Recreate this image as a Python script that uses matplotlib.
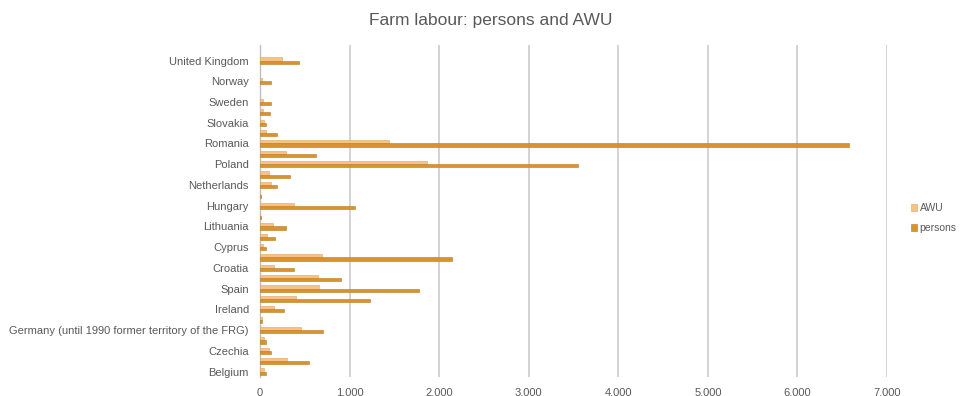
import numpy as np
import matplotlib
matplotlib.use("Agg")
import matplotlib.pyplot as plt
from matplotlib.ticker import FuncFormatter

plt.rcParams['font.family'] = ['Liberation Sans', 'DejaVu Sans']

# categories, bottom to top (only every other one gets a visible label)
countries = ["Belgium", "Bulgaria", "Czechia", "Denmark",
             "Germany (until 1990 former territory of the FRG)", "Estonia",
             "Ireland", "Greece", "Spain", "France", "Croatia", "Italy",
             "Cyprus", "Latvia", "Lithuania", "Luxembourg", "Hungary", "Malta",
             "Netherlands", "Austria", "Poland", "Portugal", "Romania",
             "Slovenia", "Slovakia", "Finland", "Sweden", "Iceland", "Norway",
             "Switzerland", "United Kingdom", "Montenegro"]

awu = [46, 298, 95, 45, 455, 18, 156, 404, 660, 644, 158, 688,
       28, 74, 140, 4, 385, 4, 121, 97, 1861, 292, 1444,
       68, 45, 37, 37, np.nan, 26, np.nan, 242, np.nan]

persons = [72, 545, 125, 72, 705, 27, 268, 1228, 1772, 907, 385, 2140,
           68, 164, 292, 7, 1061, 10, 186, 335, 3554, 624, 6580,
           186, 67, 112, 125, np.nan, 125, np.nan, 430, np.nan]

xticks = [0, 1000, 2000, 3000, 4000, 5000, 6000, 7000]

grey = '#595959'

fig = plt.figure(figsize=(9.67, 3.96), dpi=100)
ax = fig.add_axes([260/967, 1 - 376.7/396, (887 - 260)/967, (376.7 - 45)/396])

y = np.arange(len(countries))
h = 0.3
ax.barh(y + h/2, awu, height=h, color='#F6C286', edgecolor='#E3A35E',
        linewidth=0.4, label='AWU', zorder=3)
ax.barh(y - h/2, persons, height=h, color='#D8922E', edgecolor='#B97A22',
        linewidth=0.4, label='persons', zorder=3)

ax.set_xlim(0, 7000)
ax.set_ylim(-0.5, len(countries) - 0.5)
ax.set_xticks(xticks)
ax.xaxis.set_major_formatter(FuncFormatter(lambda v, p: f"{int(v):,}"))
ax.set_yticks(y[::2])
ax.set_yticklabels(countries[::2])
ax.tick_params(axis='both', length=0, labelsize=8, colors=grey)
ax.tick_params(axis='y', pad=8)
ax.tick_params(axis='x', pad=8)

ax.grid(axis='x', color='#CCCCCC', linewidth=1.2, zorder=0)
for s in ['top', 'right', 'bottom']:
    ax.spines[s].set_visible(False)
ax.spines['left'].set_color('#BFBFBF')
ax.spines['left'].set_linewidth(1.0)

fig.text(0.508, 0.948, "Farm labour: persons and AWU", ha='center', va='center',
         fontsize=12.5, color=grey)

fig.legend(loc='center left', bbox_to_anchor=(0.942, 0.449), frameon=False,
           fontsize=7.5, handlelength=0.55, handleheight=0.55, handletextpad=0.3,
           labelspacing=0.95, borderpad=0, borderaxespad=0, labelcolor=grey)

fig.savefig("out.png", dpi=100)
